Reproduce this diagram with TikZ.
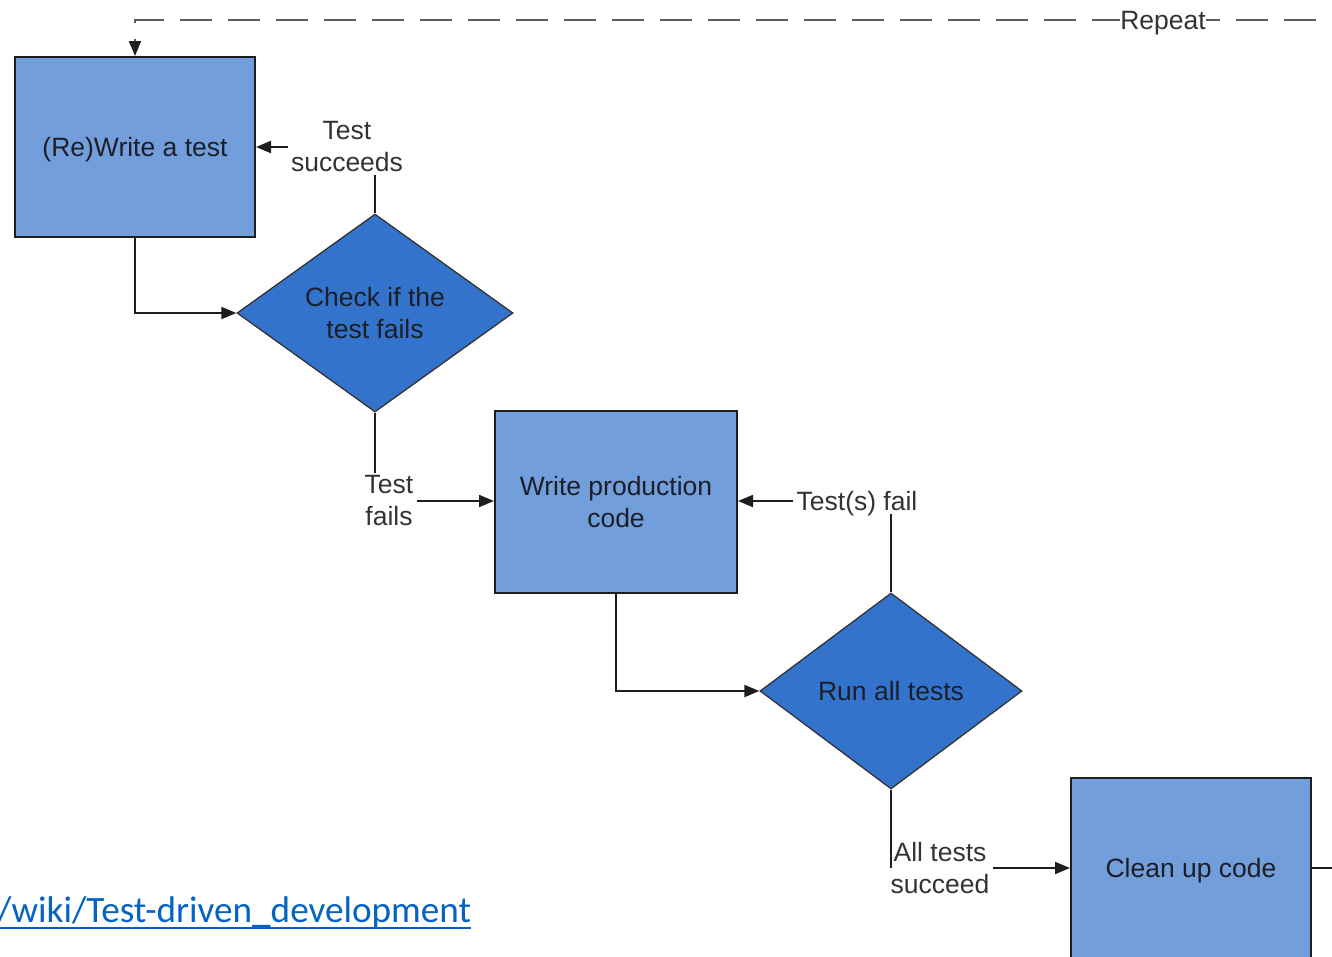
\documentclass[tikz,border=0pt]{standalone}
\usepackage{fontspec}
\setmainfont{Liberation Sans}
\newfontfamily\linkfont{Carlito}
\usetikzlibrary{arrows.meta,shapes.geometric}
\definecolor{boxfill}{RGB}{114,159,219}
\definecolor{diafill}{RGB}{51,115,204}
\definecolor{linkblue}{RGB}{5,99,193}
\definecolor{txt}{RGB}{28,30,40}
\definecolor{lbl}{RGB}{51,51,51}
\definecolor{edge}{RGB}{30,30,30}
\begin{document}
\begin{tikzpicture}[x=1pt,y=-1pt,
  every node/.style={font=\fontsize{26.5}{32}\selectfont},
  procbox/.style={rectangle, draw=edge, line width=2pt, fill=boxfill, minimum width=240pt, minimum height=180pt, inner sep=0pt, align=center, text=txt},
  decbox/.style={diamond, draw=black!80, line width=1.3pt, fill=diafill, inner sep=0pt, align=center, text=txt},
  lbltext/.style={align=center, inner sep=3pt, text=lbl},
  oneline/.style={text depth=0pt},
  conn/.style={draw=edge, line width=2pt},
  arr/.style={conn, -{Triangle[length=15pt,width=12pt]}},
  dashline/.style={draw=black!65, line width=2pt, dash pattern=on 32pt off 16pt, dash phase=32pt},
]
\useasboundingbox (0,0) rectangle (1332,956);

\node[procbox, oneline] (b1) at (135,147) {(Re)Write a test};
\node[decbox, minimum width=276pt, minimum height=198pt] (d1) at (375,313) {Check if the\\test fails};
\node[procbox, minimum width=242pt, minimum height=182pt] (b2) at (616,502) {Write production\\code};
\node[decbox, minimum width=262pt, minimum height=196pt] (d2) at (891,691) {Run all tests};
\node[procbox, oneline] (b3) at (1191,868) {Clean up code};

\node[lbltext] (l1) at (347,147) {Test\\succeeds};
\node[lbltext] (l2) at (389,501) {Test\\fails};
\node[lbltext, oneline] (l3) at (857,501) {Test(s) fail};
\node[lbltext] (l4) at (940,868) {All tests\\succeed};

\draw[conn] (d1.north) -- (d1.north |- l1.south);
\draw[arr] (l1.west) -- (l1.west -| b1.east);
\draw[arr] (b1.south) |- (d1.west);
\draw[conn] (d1.south) -- (d1.south |- l2.north);
\draw[arr] (l2.east) -- (l2.east -| b2.west);
\draw[arr] (b2.south) |- (d2.west);
\draw[conn] (d2.north) -- (d2.north |- l3.south);
\draw[arr] (l3.west) -- (l3.west -| b2.east);
\draw[conn] (d2.south) -- (d2.south |- l4.west);
\draw[arr] (l4.east) -- (l4.east -| b3.west);
\coordinate (exit) at (1332,868);
\draw[conn] (b3.east) -- (exit);

\coordinate (rtop) at (1332,20);
\draw[dashline, -{Triangle[length=15pt,width=12pt,color=edge]}] (rtop) -- (rtop -| b1.north) -- (b1.north);
\node[fill=white, inner sep=0pt, text=lbl, oneline] (rep) at (1163,20) {Repeat};

\node[anchor=base west, inner sep=0pt, text=linkblue, font=\linkfont\fontsize{37.2}{40}\selectfont] (link) at (-3,922) {/wiki/Test-driven\_development};
\draw[linkblue, line width=2pt] ([yshift=-6pt]link.base west) -- ([yshift=-6pt]link.base east);
\end{tikzpicture}
\end{document}
